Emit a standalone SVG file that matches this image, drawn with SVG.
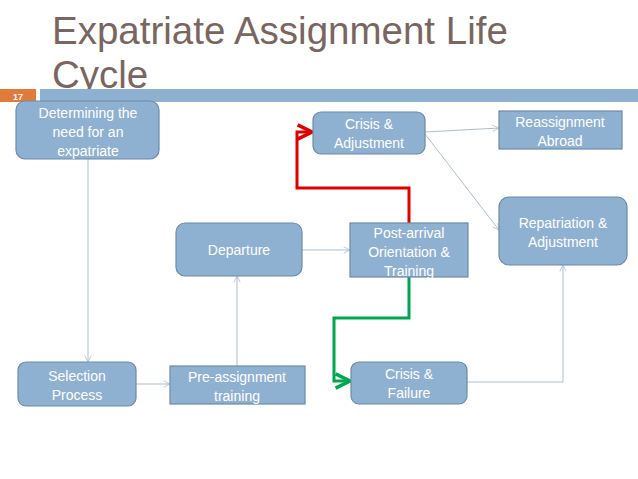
<svg xmlns="http://www.w3.org/2000/svg" width="638" height="479" viewBox="0 0 638 479">
<style>
.n{fill:#8fb1d1;stroke:#6c8aa8;stroke-width:1.2}
.t{font-family:"Liberation Sans",Arial,sans-serif;font-size:14px;fill:#fff;text-anchor:middle}
.c{fill:none;stroke:#a9bfd3;stroke-width:1}
</style>
<defs>
<marker id="a" viewBox="0 0 10 10" refX="9" refY="5" markerWidth="8" markerHeight="8" orient="auto" markerUnits="userSpaceOnUse"><path d="M1,1L9,5L1,9" fill="none" stroke="#a9bfd3"/></marker>
<marker id="r" viewBox="0 0 10 10" refX="9" refY="5" markerWidth="6" markerHeight="6" orient="auto"><path d="M1,1L9,5L1,9" fill="none" stroke="#e00000" stroke-width="2"/></marker>
<marker id="g" viewBox="0 0 10 10" refX="9" refY="5" markerWidth="6" markerHeight="6" orient="auto"><path d="M1,1L9,5L1,9" fill="none" stroke="#00a550" stroke-width="2"/></marker>
</defs>
<rect width="638" height="479" fill="#fff"/>
<text x="52" y="44" font-family="Liberation Sans,Arial,sans-serif" font-size="38.5" fill="#7a6660">Expatriate Assignment Life</text>
<text x="52" y="88" font-family="Liberation Sans,Arial,sans-serif" font-size="38.5" fill="#7a6660">Cycle</text>
<rect x="40" y="89" width="598" height="13" fill="#8fb1d1"/>
<rect x="0" y="89" width="36" height="13" fill="#e07b39"/>
<text x="18" y="100" font-family="Liberation Sans,Arial,sans-serif" font-size="9" font-weight="bold" fill="#fff" text-anchor="middle">17</text>
<g id="connectors">
<path class="c" d="M88,159V362" marker-end="url(#a)"/>
<path class="c" d="M136,384H170" marker-end="url(#a)"/>
<path class="c" d="M237,366V276" marker-end="url(#a)"/>
<path class="c" d="M302,250H350" marker-end="url(#a)"/>
<path class="c" d="M425,132L499,128" marker-end="url(#a)"/>
<path class="c" d="M425,134L499,230" marker-end="url(#a)"/>
<path class="c" d="M467,382H563V265" marker-end="url(#a)"/>
<path d="M409,223V188H297V132H312" fill="none" stroke="#e00000" stroke-width="3" marker-end="url(#r)"/>
<path d="M409,277V318H334V381H350" fill="none" stroke="#00a550" stroke-width="3" marker-end="url(#g)"/>
</g>
<g id="n1"><rect class="n" x="16" y="101" width="143" height="58" rx="9"/><text class="t" x="88" y="118">Determining the</text><text class="t" x="88" y="137">need for an</text><text class="t" x="88" y="156">expatriate</text></g>
<g id="n2"><rect class="n" x="18" y="362" width="118" height="44" rx="8"/><text class="t" x="77" y="381">Selection</text><text class="t" x="77" y="400">Process</text></g>
<g id="n3"><rect class="n" x="170" y="366" width="135" height="38"/><text class="t" x="237" y="382">Pre-assignment</text><text class="t" x="237" y="401">training</text></g>
<g id="n4"><rect class="n" x="176" y="223" width="126" height="53" rx="9"/><text class="t" x="239" y="255">Departure</text></g>
<g id="n5"><rect class="n" x="350" y="223" width="118" height="54"/><text class="t" x="409" y="238">Post-arrival</text><text class="t" x="409" y="257">Orientation &amp;</text><text class="t" x="409" y="276">Training</text></g>
<g id="n6"><rect class="n" x="313" y="112" width="112" height="42" rx="8"/><text class="t" x="369" y="129">Crisis &amp;</text><text class="t" x="369" y="148">Adjustment</text></g>
<g id="n7"><rect class="n" x="499" y="111" width="123" height="38"/><text class="t" x="560" y="127">Reassignment</text><text class="t" x="560" y="146">Abroad</text></g>
<g id="n8"><rect class="n" x="499" y="197" width="128" height="68" rx="10"/><text class="t" x="563" y="228">Repatriation &amp;</text><text class="t" x="563" y="247">Adjustment</text></g>
<g id="n9"><rect class="n" x="351" y="362" width="116" height="42" rx="8"/><text class="t" x="409" y="379">Crisis &amp;</text><text class="t" x="409" y="398">Failure</text></g>
</svg>
